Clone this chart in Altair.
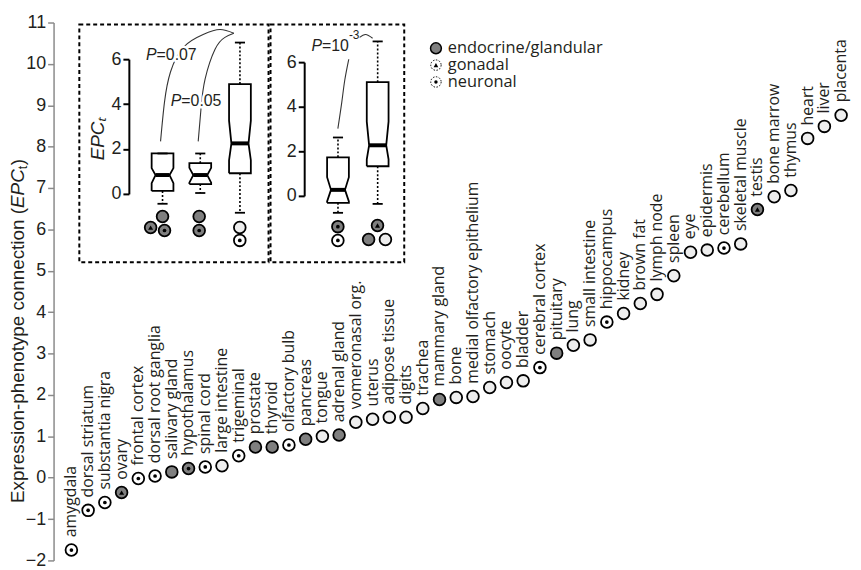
import altair as alt
import pandas as pd

# ---------------- main data ----------------
tissues = ["amygdala", "dorsal striatum", "substantia nigra", "ovary", "frontal cortex",
           "dorsal root ganglia", "salivary gland", "hypothalamus", "spinal cord",
           "large intestine", "trigeminal", "prostate", "thyroid", "olfactory bulb",
           "pancreas", "tongue", "adrenal gland", "vomeronasal org.", "uterus",
           "adipose tissue", "digits", "trachea", "mammary gland", "bone",
           "medial olfactory epithelium", "stomach", "oocyte", "bladder",
           "cerebral cortex", "pituitary", "lung", "small intestine", "hippocampus",
           "kidney", "brown fat", "lymph node", "spleen", "eye", "epidermis",
           "cerebellum", "skeletal muscle", "testis", "bone marrow", "thymus",
           "heart", "liver", "placenta"]
epc = [-1.75, -0.79, -0.60, -0.36, -0.02, 0.04, 0.14, 0.22, 0.26, 0.29, 0.53, 0.74,
       0.74, 0.79, 0.93, 1.00, 1.03, 1.34, 1.41, 1.46, 1.46, 1.67, 1.89, 1.94, 1.96,
       2.18, 2.30, 2.34, 2.66, 3.01, 3.20, 3.33, 3.76, 3.97, 4.21, 4.43, 4.88, 5.45,
       5.50, 5.55, 5.65, 6.48, 6.79, 6.94, 8.20, 8.49, 8.76]
neuronal = ["amygdala", "dorsal striatum", "substantia nigra", "frontal cortex",
            "dorsal root ganglia", "hypothalamus", "spinal cord", "trigeminal",
            "olfactory bulb", "cerebral cortex", "hippocampus", "cerebellum"]
endocrine = ["ovary", "salivary gland", "hypothalamus", "prostate", "thyroid",
             "pancreas", "adrenal gland", "mammary gland", "pituitary", "testis"]
gonadal = ["ovary", "testis"]

# ---------------- inset box statistics ----------------
box_name = ["endocrine", "endocrine (non-gonadal)", "other", "neuronal", "non-neuronal"]
box_inset = ["A", "A", "A", "B", "B"]
box_slot = [1.0, 1.97, 2.99, 5.51, 6.53]
box_low = [-0.44, 0.04, -0.84, -0.76, -0.36]
box_q1 = [0.13, 0.44, 0.92, -0.31, 1.33]
box_med = [0.84, 0.84, 2.25, 0.27, 2.27]
box_q3 = [1.80, 1.37, 4.89, 1.73, 5.10]
box_high = [1.80, 1.80, 6.74, 2.62, 6.93]
notch_lo = [0.48, 0.50, 1.50, -0.25, 1.64]
notch_hi = [1.15, 1.16, 3.26, 0.84, 3.33]

# markers under the inset boxes
mk_inset = ["A"] * 7 + ["B"] * 5
mk_slot = [0.694, 1.0, 1.051, 1.942, 1.942, 2.986, 2.986, 5.507, 5.507, 6.526, 6.297, 6.73]
mk_val = [-1.50, -1.01, -1.63, -1.01, -1.63, -1.50, -2.07, -1.38, -2.00, -1.33, -1.96, -1.96]
mk_kind = ["gonadal", "endocrine", "endo-neuronal", "endocrine", "endo-neuronal", "other",
           "neuronal", "endo-neuronal", "neuronal", "gonadal", "endocrine", "other"]

# P-value annotations (inset units)
p_inset = ["A", "A", "B"]
p_slot = [0.847, 1.484, 5.10]
p_val = [6.18, 4.15, 6.71]
p_rest = ["=0.07", "=0.05", "=10"]
sup_slot = [5.79]
sup_val = [7.20]
sup_text = ["-3"]

# connector curves (inset units)
curve_pts = {
    "c1": ("A", [0.949, 1.051, 1.204, 1.535, 2.044, 2.477, 2.833],
                [2.34, 4.10, 5.43, 6.53, 7.10, 7.32, 7.15]),
    "c2": ("A", [1.917, 1.993, 2.095, 2.350, 2.604, 2.833],
                [2.34, 3.88, 5.12, 6.44, 6.97, 7.15]),
    "c3": ("B", [5.507, 5.609, 5.685, 5.787], [3.02, 4.22, 5.20, 6.13]),
    "c4": ("B", [6.067, 6.22, 6.40], [7.11, 7.24, 7.07]),
}

# inset frames (inset units)
frame_x1 = [-1.139, 3.776]
frame_x2 = [3.725, 7.213]
frame_y1 = [-3.044, -3.044]
frame_y2 = [7.543, 7.543]

legend_labels = ["endocrine/glandular", "gonadal", "neuronal"]

# y-axis title pieces: text, style
title_parts = ["Expression-phenotype connection (", "EPC", "t", ")"]
title_style = ["normal", "italic", "sub", "normal"]

# ---------------- styles ----------------
GREY = "#7f7f7f"
LIGHT = "#eeeeee"
TXT = "#231f20"
W, H = 807, 543

X_MAIN = alt.Scale(domain=[1, 47], range=[18, 795], nice=False, zero=False)
Y_MAIN = alt.Scale(domain=[-2, 11], range=[H, 0], nice=False, zero=False)
X_IN = alt.Scale(domain=[1, 7], range=[110, 110 + 6 * 39.27], nice=False, zero=False)
Y_IN = {"A": alt.Scale(domain=[0, 6], range=[173, 37], nice=False, zero=False),
        "B": alt.Scale(domain=[0, 6], range=[175, 40], nice=False, zero=False)}


def fill_of(kind):
    if kind in ("endocrine", "gonadal", "endo-neuronal"):
        return GREY
    if kind == "neuronal":
        return "white"
    return LIGHT


def kind_of(t):
    if t in gonadal:
        return "gonadal"
    if t in endocrine and t in neuronal:
        return "endo-neuronal"
    if t in endocrine:
        return "endocrine"
    if t in neuronal:
        return "neuronal"
    return "other"


main_df = pd.DataFrame({"idx": list(range(1, len(tissues) + 1)), "tissue": tissues, "epc": epc})
main_df["kind"] = [kind_of(t) for t in tissues]
main_df["fill"] = [fill_of(k) for k in main_df["kind"]]
main_df["dot"] = main_df["kind"].isin(["neuronal", "endo-neuronal"])
main_df["tri"] = main_df["kind"] == "gonadal"

main_axis = alt.Axis(values=list(range(-2, 12)), orient="left", offset=0, grid=False,
                     title="",
                     labelFont="Liberation Sans", labelFontSize=18, labelColor=TXT,
                     labelPadding=2, domainColor="#8a8a8a", domainWidth=1.5,
                     tickColor="#8a8a8a", tickWidth=1.5, tickSize=6)

mx = alt.X("idx:Q", scale=X_MAIN, axis=None)
base = alt.Chart(main_df)
pts = base.mark_circle(size=140, stroke="black", strokeWidth=1.8, opacity=1).encode(
    x=mx, y=alt.Y("epc:Q", scale=Y_MAIN, axis=main_axis),
    fill=alt.Fill("fill:N", scale=None))
dots = base.transform_filter("datum.dot").mark_circle(size=14, color="black", opacity=1).encode(
    x=mx, y=alt.Y("epc:Q", scale=Y_MAIN, axis=None))
tris = base.transform_filter("datum.tri").mark_point(
    shape="triangle-up", filled=True, size=26, color="black", opacity=1).encode(
    x=mx, y=alt.Y("epc:Q", scale=Y_MAIN, axis=None))
labels = base.mark_text(angle=270, align="left", baseline="middle", dx=13,
                        font="Open Sans", fontSize=16, color=TXT).encode(
    x=mx, y=alt.Y("epc:Q", scale=Y_MAIN, axis=None), text="tissue:N")

# ---------------- y-axis title (mixed styles) ----------------
ARIAL = {"E": 667, "x": 500, "p": 556, "r": 333, "e": 556, "s": 500, "i": 222, "o": 556,
         "n": 556, "-": 333, "h": 556, "t": 278, "y": 500, "c": 500, " ": 278, "(": 333,
         ")": 333, "P": 667, "C": 722}
TFS, SFS = 19, 13
offs, acc = [], 0.0
for part, sty in zip(title_parts, title_style):
    offs.append(acc)
    fs = SFS if sty == "sub" else TFS
    acc += sum(ARIAL.get(ch, 556) for ch in part) / 1000.0 * fs + (0.5 if sty == "sub" else 0)
title_df = pd.DataFrame({"t": title_parts, "sty": title_style, "off": offs})
TITLE_X, TITLE_Y0 = -36, 485
title_layers = []
for sty, fs, style, dy in [("normal", TFS, "normal", 0), ("italic", TFS, "italic", 0),
                           ("sub", SFS, "normal", 5)]:
    title_layers.append(
        alt.Chart(title_df).transform_filter(f"datum.sty == '{sty}'").transform_calculate(
            py=f"{TITLE_Y0} - datum.off").mark_text(
            angle=270, align="left", baseline="middle", dy=dy, font="Liberation Sans",
            fontSize=fs, fontStyle=style, color=TXT).encode(
            x=alt.value(TITLE_X), y=alt.Y("py:Q", scale=None, axis=None), text="t:N"))

# ---------------- insets ----------------
def ix(f="slot"):
    return alt.X(f + ":Q", scale=X_IN, axis=None)


def iy(ins, f, axis=None):
    if axis is None:
        return alt.Y(f + ":Q", scale=Y_IN[ins], axis=None)
    return alt.Y(f + ":Q", scale=Y_IN[ins], axis=axis)


frames_df = pd.DataFrame({"x1": frame_x1, "x2": frame_x2, "y1": frame_y1, "y2": frame_y2})
frames = alt.Chart(frames_df).mark_rect(filled=False, color="black", stroke="black",
                                         strokeWidth=2, strokeDash=[4, 3]).encode(
    x=ix("x1"), x2="x2:Q", y=iy("A", "y1"), y2="y2:Q")

axisA = alt.Axis(values=[0, 2, 4, 6], orient="left", offset=-76, grid=False,
                 title="EPCₜ", titleFont="Liberation Sans", titleFontSize=19,
                 titleFontStyle="italic", titleFontWeight="normal", titleColor=TXT,
                 titleAngle=270, titleX=-32, titleY=117, titleAlign="center",
                 titleBaseline="middle",
                 labelFont="Liberation Sans", labelFontSize=18, labelColor=TXT,
                 labelPadding=2, domainColor="black", domainWidth=2,
                 tickColor="black", tickWidth=2, tickSize=6)
axisB = alt.Axis(values=[0, 2, 4, 6], orient="left", offset=-253, grid=False, title="",
                 labelFont="Liberation Sans", labelFontSize=18, labelColor=TXT,
                 labelPadding=2, domainColor="black", domainWidth=2,
                 tickColor="black", tickWidth=2, tickSize=6)
AX = {"A": axisA, "B": axisB}

HALF, CAP = 0.28, 0.13
inset_layers = [frames]
for ins in ["A", "B"]:
    ids = [i for i in range(len(box_name)) if box_inset[i] == ins]
    poly_rows = []
    for i in ids:
        s = box_slot[i]
        ind = 0.06 if (box_q3[i] - box_q1[i]) > 3 else 0.10
        L, R = s - HALF, s + HALF
        verts = [(L, box_q1[i]), (L, notch_lo[i]), (L + ind, box_med[i]), (L, notch_hi[i]),
                 (L, box_q3[i]), (R, box_q3[i]), (R, notch_hi[i]), (R - ind, box_med[i]),
                 (R, notch_lo[i]), (R, box_q1[i]), (L, box_q1[i])]
        for k, (vx, vy) in enumerate(verts):
            poly_rows.append({"box": box_name[i], "o": k, "slot": vx, "v": vy})
    poly = alt.Chart(pd.DataFrame(poly_rows)).mark_line(
        color="black", strokeWidth=1.8, strokeJoin="miter").encode(
        x=ix(), y=iy(ins, "v", AX[ins]), detail="box:N", order="o:Q")

    st = pd.DataFrame({
        "box": [box_name[i] for i in ids], "slot": [box_slot[i] for i in ids],
        "low": [box_low[i] for i in ids], "q1": [box_q1[i] for i in ids],
        "med": [box_med[i] for i in ids], "q3": [box_q3[i] for i in ids],
        "high": [box_high[i] for i in ids],
        "ind": [0.06 if (box_q3[i] - box_q1[i]) > 3 else 0.10 for i in ids]})
    bst = alt.Chart(st).transform_calculate(
        ml=f"datum.slot - {HALF} + datum.ind", mr=f"datum.slot + {HALF} - datum.ind",
        cl=f"datum.slot - {CAP}", cr=f"datum.slot + {CAP}")
    med = bst.mark_rule(color="black", strokeWidth=4).encode(
        x=ix("ml"), x2="mr:Q", y=iy(ins, "med"))
    wlo = bst.mark_rule(color="black", strokeWidth=1.6, strokeDash=[2, 2]).encode(
        x=ix(), y=iy(ins, "q1"), y2="low:Q")
    whi = bst.mark_rule(color="black", strokeWidth=1.6, strokeDash=[2, 2]).encode(
        x=ix(), y=iy(ins, "q3"), y2="high:Q")
    clo = bst.mark_rule(color="black", strokeWidth=1.8).encode(
        x=ix("cl"), x2="cr:Q", y=iy(ins, "low"))
    chi = bst.mark_rule(color="black", strokeWidth=1.8).encode(
        x=ix("cl"), x2="cr:Q", y=iy(ins, "high"))

    sel = [j for j in range(len(mk_slot)) if mk_inset[j] == ins]
    mk = pd.DataFrame({"slot": [mk_slot[j] for j in sel], "v": [mk_val[j] for j in sel],
                       "kind": [mk_kind[j] for j in sel]})
    mk["fill"] = [fill_of(k) for k in mk["kind"]]
    mk["dot"] = mk["kind"].isin(["neuronal", "endo-neuronal"])
    mk["tri"] = mk["kind"] == "gonadal"
    mkc = alt.Chart(mk)
    m1 = mkc.mark_circle(size=140, stroke="black", strokeWidth=1.8, opacity=1).encode(
        x=ix(), y=iy(ins, "v"), fill=alt.Fill("fill:N", scale=None))
    m2 = mkc.transform_filter("datum.dot").mark_circle(size=14, color="black", opacity=1).encode(
        x=ix(), y=iy(ins, "v"))
    m3 = mkc.transform_filter("datum.tri").mark_point(
        shape="triangle-up", filled=True, size=26, color="black", opacity=1).encode(
        x=ix(), y=iy(ins, "v"))

    crow = []
    for cid, (cins, xs, ys) in curve_pts.items():
        if cins != ins:
            continue
        for k, (cx, cy) in enumerate(zip(xs, ys)):
            crow.append({"c": cid, "o": k, "slot": cx, "v": cy})
    curves = alt.Chart(pd.DataFrame(crow)).mark_line(
        color="#333333", strokeWidth=1.1, interpolate="natural").encode(
        x=ix(), y=iy(ins, "v"), detail="c:N", order="o:Q")

    psel = [j for j in range(3) if p_inset[j] == ins]
    pdf = pd.DataFrame({"slot": [p_slot[j] for j in psel], "v": [p_val[j] for j in psel],
                        "rest": [p_rest[j] for j in psel]})
    pdf["P"] = "P"
    pc = alt.Chart(pdf)
    tkw = dict(font="Liberation Sans", fontSize=16, baseline="middle")
    halo_p = pc.mark_text(align="right", fontStyle="italic", color="white", stroke="white",
                          strokeWidth=5, strokeJoin="round", **tkw).encode(
        x=ix(), y=iy(ins, "v"), text="P:N")
    halo_r = pc.mark_text(align="left", color="white", stroke="white", strokeWidth=5,
                          strokeJoin="round", **tkw).encode(
        x=ix(), y=iy(ins, "v"), text="rest:N")
    tp = pc.mark_text(align="right", fontStyle="italic", color=TXT, **tkw).encode(
        x=ix(), y=iy(ins, "v"), text="P:N")
    tr = pc.mark_text(align="left", color=TXT, **tkw).encode(
        x=ix(), y=iy(ins, "v"), text="rest:N")
    inset_layers += [curves, halo_p, halo_r, tp, tr, poly, med, wlo, whi, clo, chi, m1, m2, m3]
    if ins == "B":
        sup = alt.Chart(pd.DataFrame({"slot": sup_slot, "v": sup_val, "t": sup_text})).mark_text(
            align="left", baseline="middle", font="Liberation Sans", fontSize=12, color=TXT).encode(
            x=ix(), y=iy("B", "v"), text="t:N")
        inset_layers.append(sup)

# ---------------- legend ----------------
leg = pd.DataFrame({"label": legend_labels, "row": [0, 1, 2]})
leg["ly"] = 26 + leg["row"] * 17
legc = alt.Chart(leg)
lx = alt.value(386)
ly = alt.Y("ly:Q", scale=None, axis=None)
l_circ1 = legc.transform_filter("datum.row == 0").mark_circle(
    size=120, fill=GREY, stroke="black", strokeWidth=1.5, opacity=1).encode(x=lx, y=ly)
l_circ2 = legc.transform_filter("datum.row > 0").mark_point(
    shape="circle", size=110, fill="white", filled=False, stroke="black", strokeWidth=1,
    strokeDash=[1.5, 1.5], opacity=1).encode(x=lx, y=ly)
l_tri = legc.transform_filter("datum.row == 1").mark_point(
    shape="triangle-up", filled=True, size=22, color="black", opacity=1).encode(x=lx, y=ly)
l_dot = legc.transform_filter("datum.row == 2").mark_circle(
    size=12, color="black", opacity=1).encode(x=lx, y=ly)
l_txt = legc.mark_text(align="left", baseline="middle", font="Open Sans", fontSize=16.5,
                       color=TXT).encode(x=alt.value(398), y=ly, text="label:N")

chart = alt.layer(
    pts, dots, tris, labels, *title_layers, *inset_layers,
    l_circ1, l_circ2, l_tri, l_dot, l_txt
).resolve_scale(x="independent", y="independent").properties(
    width=W, height=H,
    autosize=alt.AutoSizeParams(type="none"),
    padding={"left": 46, "top": 12, "right": 0, "bottom": 7},
    background="white",
).configure_view(strokeWidth=0)

chart.save("out.html", embed_options={"renderer": "svg", "actions": False})
